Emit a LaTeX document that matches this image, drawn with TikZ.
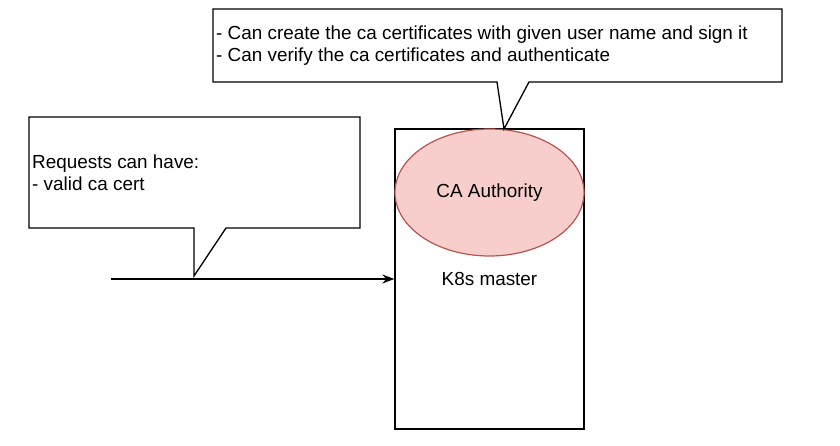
\documentclass[tikz,border=0pt]{standalone}
\usepackage{fontspec}
\setmainfont{Liberation Sans}
\usetikzlibrary{arrows.meta,shapes.geometric}
\definecolor{cafill}{HTML}{F8CECC}
\definecolor{castroke}{HTML}{B85450}
\tikzset{
  line/.style={line width=1.3pt, draw=black},
  lbl/.style={font=\fontsize{18.9}{22}\selectfont, align=left, inner sep=0pt},
}
\begin{document}
\begin{tikzpicture}[x=1pt,y=-1pt]
\useasboundingbox (0,0) rectangle (840,446);
% master box
\node[line, rectangle, minimum width=189pt, minimum height=300pt, inner sep=0pt] (master) at (489.5,279) {};
\node[ellipse, line width=1.2pt, draw=castroke, fill=cafill, minimum width=189pt, minimum height=127pt, inner sep=0pt] (ca) at (489.5,192.5) {};
\node[lbl] (catext) at (489.5,192.5) {CA Authority};
\node[lbl] (k8s) at (489.5,278.5) {K8s master};
% top callout
\draw[line, fill=white, line join=miter] (213,9) -- (782,9) -- (782,82) -- (529,82) -- (504,129) -- (497,82) -- (213,82) -- cycle;
\node[lbl, anchor=west] (toptext) at (216,46) {- Can create the ca certificates with given user name and sign it\\- Can verify the ca certificates and authenticate};
% left callout
\draw[line, fill=white, line join=miter] (29,117) -- (360,117) -- (360,228) -- (226,228) -- (194,276) -- (194,228) -- (29,228) -- cycle;
\node[lbl, anchor=west] (lefttext) at (32,173) {Requests can have:\\- valid ca cert};
% arrow
\coordinate (start) at (111,279);
\draw[line, -{Stealth[length=12pt,width=9pt]}] (start) -- (master.west |- start);
\end{tikzpicture}
\end{document}
